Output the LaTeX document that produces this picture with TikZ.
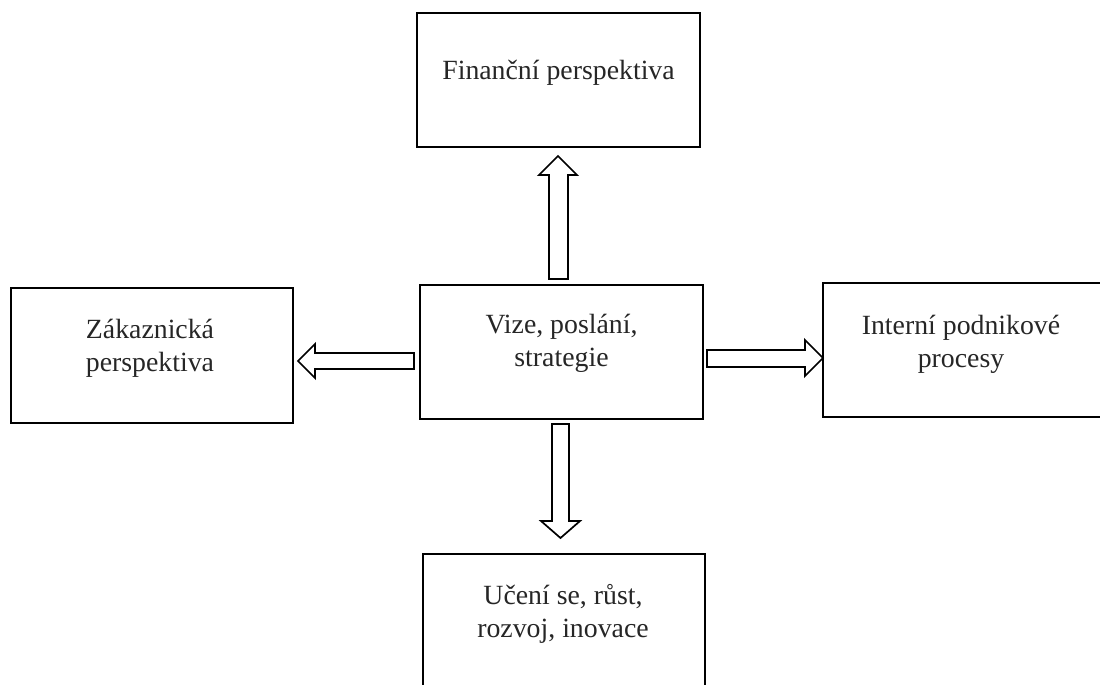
\documentclass[tikz,border=0pt]{standalone}
\usepackage{fontspec}
\setmainfont{Liberation Serif}
\tikzset{
  boxframe/.style={draw=black, line width=2pt, fill=none, rectangle, inner sep=0pt},
  boxtext/.style={align=center, font=\fontsize{27.8}{33}\selectfont, text=black!85, inner sep=0pt},
  blockarrow/.style={draw=black, line width=1.7pt, fill=white, line join=miter}
}
\begin{document}
\begin{tikzpicture}[x=1pt,y=-1pt]
\useasboundingbox (0,0) rectangle (1100,685);
\clip (0,0) rectangle (1100,685);
% boxes
\node[boxframe, minimum width=283pt, minimum height=134pt] (fin) at (558.5,80) {};
\node[boxframe, minimum width=283pt, minimum height=134pt] (viz) at (561.5,352) {};
\node[boxframe, minimum width=282pt, minimum height=135pt] (zak) at (152,355.5) {};
\node[boxframe, minimum width=283pt, minimum height=134pt] (int) at (964.5,350) {};
\node[boxframe, minimum width=282pt, minimum height=134pt] (uce) at (564,621) {};
% texts
\node[boxtext] (tfin) at (558.5,73) {Finanční perspektiva};
\node[boxtext] (tviz) at (561.5,343) {Vize, poslání,\\strategie};
\node[boxtext] (tzak) at (150,348) {Zákaznická\\perspektiva};
\node[boxtext] (tint) at (961,344) {Interní podnikové\\procesy};
\node[boxtext] (tuce) at (563,614) {Učení se, růst,\\rozvoj, inovace};
% block arrows
% up
\draw[blockarrow] (549,279) -- (549,175) -- (539,175) -- (558,156) -- (577,175) -- (568,175) -- (568,279) -- cycle;
% left
\draw[blockarrow] (414,353) -- (315,353) -- (315,344) -- (298,361) -- (315,378) -- (315,369) -- (414,369) -- cycle;
% right
\draw[blockarrow] (707,350) -- (805,350) -- (805,340) -- (823,358) -- (805,376) -- (805,367) -- (707,367) -- cycle;
% down
\draw[blockarrow] (552,424) -- (552,521) -- (541,521) -- (560.5,538) -- (580,521) -- (569,521) -- (569,424) -- cycle;
\end{tikzpicture}
\end{document}
